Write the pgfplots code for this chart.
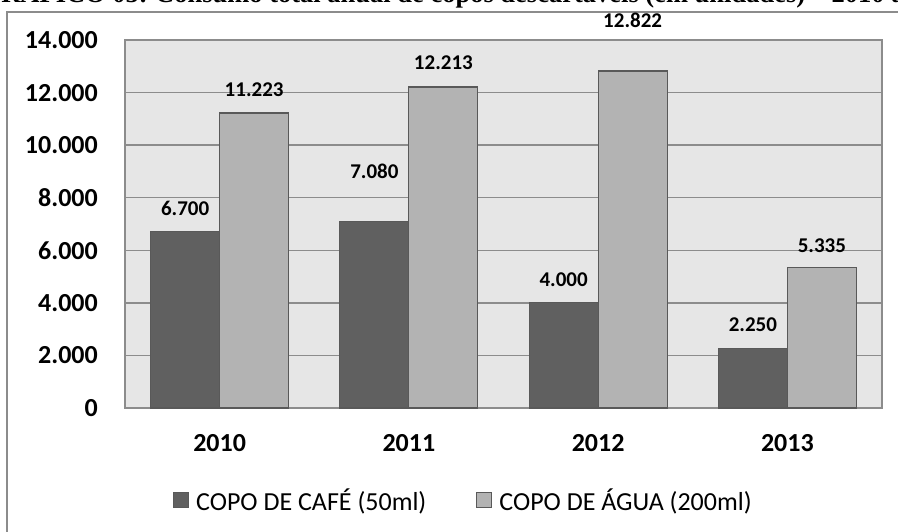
\documentclass[border=0pt]{standalone}
\usepackage{fontspec}
\setmainfont{Carlito}
\newfontfamily\titlefont{Liberation Serif}
\usepackage{pgfplots}
\usepackage{pgfplotstable}
\pgfplotsset{compat=1.18}

\definecolor{cafe}{HTML}{606060}
\definecolor{agua}{HTML}{B3B3B3}
\definecolor{edge}{HTML}{595959}
\definecolor{plotbg}{HTML}{E6E6E6}
\definecolor{gridc}{HTML}{8C8C8C}

% off = distance (bp) from bar top to label centre
\pgfplotstableread{
x y off
0 6700 23
1 7080 51
2 4000 23
3 2250 24
}\tabcafe
\pgfplotstableread{
x y off
0 11223 23
1 12213 24
2 12822 51
3 5335 22
}\tabagua

\begin{document}
\begin{tikzpicture}
\useasboundingbox (0bp,0bp) rectangle (898bp,532bp);
\clip (0bp,0bp) rectangle (898bp,532bp);
\fill[white] (0bp,0bp) rectangle (898bp,532bp);
\draw[gridc, line width=1.5bp] (7bp,-10bp) rectangle (920bp,520bp);
\node[anchor=base west, inner sep=0pt, font=\titlefont\bfseries\fontsize{26.5bp}{30bp}\selectfont]
  at (155bp,529bp) {Consumo total anual de copos descartáveis (em unidades) – 2010 a 2013};
\node[anchor=base east, inner sep=0pt, font=\titlefont\bfseries\fontsize{26.5bp}{30bp}\selectfont]
  at (148bp,529bp) {GRÁFICO 05:};

\begin{axis}[
  at={(125bp,124bp)}, anchor=south west,
  scale only axis, width=757bp, height=368bp,
  ybar=0pt, bar width=69bp,
  xmin=-0.5, xmax=3.5, ymin=0, ymax=14000,
  xtick={0,1,2,3}, xticklabels={2010,2011,2012,2013},
  ytick={0,2000,...,14000},
  scaled y ticks=false,
  major tick length=0pt,
  ymajorgrids, grid style={gridc, line width=1.5bp},
  axis background/.style={fill=plotbg},
  axis line style={gridc, line width=1.5bp},
  /pgf/number format/1000 sep={.},
  /pgf/number format/assume math mode=true,
  tick label style={font=\bfseries\fontsize{26bp}{30bp}\selectfont, inner sep=0pt, text=black},
  yticklabel style={anchor=east, xshift=-27bp},
  xticklabel style={anchor=north, yshift=-26bp},
  clip=false,
  nodes near coords,
  visualization depends on={\thisrow{off}\as\labeloff},
  nodes near coords style={anchor=center, yshift=\labeloff*1bp, inner sep=0pt,
    font=\bfseries\fontsize{21bp}{24bp}\selectfont, text=black},
  every axis plot/.append style={draw=edge, line width=1.2bp},
  legend style={at={(0.0634,-0.25)}, anchor=west, draw=none, fill=none,
    inner sep=0pt, column sep=7bp,
    font=\fontsize{26bp}{30bp}\selectfont,
    nodes={inner sep=0pt},
    /tikz/every even column/.append style={column sep=50bp}},
  legend columns=2,
  legend cell align=left,
  legend image code/.code={\draw[#1, line width=1bp] (0bp,-7.5bp) rectangle (15bp,7.5bp);},
]
\addplot[fill=cafe] table[x=x, y=y] {\tabcafe};
\addplot[fill=agua] table[x=x, y=y] {\tabagua};
\legend{COPO DE CAFÉ (50ml), COPO DE ÁGUA (200ml)}
\end{axis}
\end{tikzpicture}
\end{document}
